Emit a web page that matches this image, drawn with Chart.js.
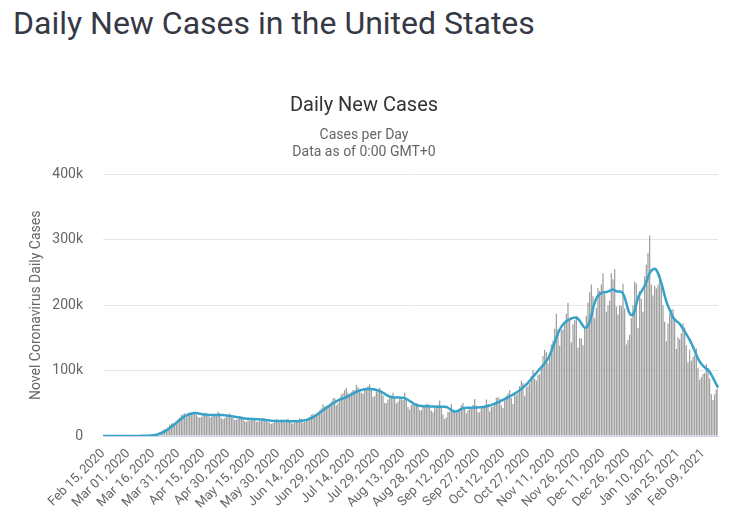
<!DOCTYPE html>
<html>
<head>
<meta charset="utf-8">
<script src="https://cdn.jsdelivr.net/npm/chart.js@4"></script>
<style>
  html, body { margin: 0; padding: 0; background: #ffffff; width: 731px; height: 516px; overflow: hidden; }
  h1 { position: absolute; left: 13px; top: 4px; margin: 0; font-family: Roboto, sans-serif; font-weight: 400; font-size: 32px; line-height: normal; color: #363945; white-space: nowrap; }
  #wrap { position: absolute; left: 10px; top: 56px; width: 721px; height: 460px; }
</style>
</head>
<body>
<h1>Daily New Cases in the United States</h1>
<div id="wrap"><canvas id="c" width="721" height="460"></canvas></div>
<script>
// ---- DATA ----
const startDate = "2020-02-15";   // first category (day 0)
const tickLabels = ["Feb 15, 2020","Mar 01, 2020","Mar 16, 2020","Mar 31, 2020","Apr 15, 2020","Apr 30, 2020","May 15, 2020","May 30, 2020","Jun 14, 2020","Jun 29, 2020","Jul 14, 2020","Jul 29, 2020","Aug 13, 2020","Aug 28, 2020","Sep 12, 2020","Sep 27, 2020","Oct 12, 2020","Oct 27, 2020","Nov 11, 2020","Nov 26, 2020","Dec 11, 2020","Dec 26, 2020","Jan 10, 2021","Jan 25, 2021","Feb 09, 2021"];
const yTicks = [0, 100000, 200000, 300000, 400000];

const dailyCases = [
0,0,0,0,0,0,1,
0,0,0,0,1,0,3,
6,8,23,20,31,70,68,
116,106,163,290,271,687,718,
952,737,1748,1367,2636,4585,5532,
6912,9346,10154,10730,13355,17155,18821,
20000,19500,22500,26000,28500,32000,33500,
35000,28500,32500,34500,34000,35500,37000,
33000,29500,28000,29000,32000,34500,35500,
31500,28500,29000,30500,32500,33500,37000,
34500,27500,26000,27000,30000,31500,34500,
31000,28000,24500,25000,26000,30500,30000,
28500,22500,21500,24000,23500,28000,27000,
27500,21500,22500,22500,23500,27500,26000,
25000,21500,20000,18500,20000,24000,25500,
25000,20500,22000,22500,21000,23500,26000,
23500,19500,19000,20500,22500,23500,27000,
26000,20500,21500,24000,26500,29000,32500,
34000,28000,31500,36500,39000,42000,48500,
45500,42500,44000,48500,52500,57500,58000,
47000,50500,58500,63500,65500,70000,74000,
66000,63500,67000,70500,70000,78000,74500,
69000,66000,64500,70500,73500,76500,79000,
70500,60000,61000,68500,71500,74000,70000,
62000,50500,50000,56000,58500,59500,66000,
60000,50000,52500,56500,58500,55000,66500,
55000,44500,40500,47500,50000,47500,50500,
48500,39500,39500,45500,47500,49500,48500,
47500,38500,36500,45000,42500,47500,54500,
46000,33000,26000,28500,37000,37500,49000,
40500,37000,35500,40000,42000,47500,50500,
44000,35000,39500,41500,41500,47500,56500,
46500,36500,36500,44000,44500,47000,56000,
49000,37500,44500,45000,51500,58000,59500,
57000,46500,43000,54000,61500,65000,70500,
58000,49000,65000,62500,65000,76500,84500,
81000,61000,74500,77000,80500,91500,101000,
87500,85000,93500,94500,108000,122500,132000,
128000,111000,121000,140000,146000,164000,187000,
163000,138000,162000,163000,173000,187000,204000,
178000,143000,171000,177000,184000,135000,150000,
149000,139000,164000,184000,204000,220000,232000,
214000,180000,196000,226000,222000,232000,249000,
218000,190000,200000,207000,249000,240000,255000,
198000,186000,200000,199000,233000,195000,140000,
147000,155000,180000,200000,236000,233000,165000,
222000,210000,190000,245000,262000,280000,307000,
232000,215000,230000,226000,232000,248000,237000,
200000,175000,145000,172000,187000,193000,194000,
176000,133000,151000,148000,157000,172000,166000,
139000,113000,132000,115000,121000,123000,134000,
104000,86000,90000,95000,96000,110000,104000,
88000,64000,55000,64000,71000,75000
];

const movingAverage = [
0,0,0,0,0,0,0,
0,0,0,0,0,100,100,
100,100,100,100,100,100,100,
100,100,200,200,200,300,400,
600,800,1100,1500,2000,2700,3600,
4600,5800,7100,8600,10200,12000,14000,
16000,18100,20200,22300,24400,26400,28200,
29900,31300,32600,33600,34400,34900,35100,
35000,34600,34100,33600,33200,32800,32500,
32300,32100,32000,32000,32100,32200,32300,
32300,32200,32000,31700,31400,31100,30800,
30400,30000,29600,29100,28600,28100,27600,
27200,26800,26500,26300,26100,26000,25900,
25800,25700,25600,25400,25200,25000,24700,
24400,24100,23800,23500,23200,23000,22900,
22800,22800,22900,23000,23000,22900,22800,
22700,22600,22600,22600,22600,22700,22900,
23200,23600,24100,24700,25500,26400,27500,
28800,30300,32000,33800,35700,37600,39500,
41400,43200,45000,46600,48200,49800,51400,
53000,54400,55600,56600,57400,58300,59400,
60700,62100,63600,65000,66300,67500,68600,
69600,70400,71000,71500,71800,72000,72000,
71900,71600,71200,70600,69800,68800,67600,
66200,64600,63000,61600,60400,59600,59100,
58900,58800,58800,58800,58700,58400,57800,
56800,55400,53700,51900,50200,48700,47500,
46700,46200,45900,45700,45600,45500,45400,
45300,45200,45100,45000,44900,44800,44800,
44800,44900,44800,44300,43200,41600,39800,
38200,37400,37600,38600,40000,41400,42400,
42900,43100,43100,43100,43100,43200,43300,
43500,43700,43900,44100,44400,44800,45300,
45900,46600,47400,48300,49300,50400,51600,
52800,54000,55200,56500,57800,59100,60500,
61900,63300,64800,66400,68100,70000,72000,
74200,76500,78900,81400,84500,87500,90500,
93500,96500,99500,102500,105000,108000,111000,
114500,118500,123500,129500,136500,143500,150500,
157000,162500,167000,170500,173300,175500,177200,
178600,179800,180800,181300,181000,179500,176500,
172500,168500,166000,166000,169000,175000,184000,
195000,204000,210500,214500,217000,218500,219500,
220000,220500,221000,222000,223500,224000,223000,
221500,221000,221000,220500,218000,212000,203000,
194000,187500,185000,186000,192000,202000,211000,
217000,221000,225000,230000,236000,243000,249000,
253000,255000,256000,254000,249000,242000,234000,
225000,215000,206000,199000,193000,187000,182000,
178500,176000,174000,171500,168000,164000,160000,
156000,151500,147000,142000,136500,130500,124000,
118500,114000,110500,107500,105000,103000,101000,
98000,94000,89000,84000,79000,74500
];

// ---- categories: one per day from startDate, formatted "Mon DD, YYYY" ----
const monthNames = ["Jan","Feb","Mar","Apr","May","Jun","Jul","Aug","Sep","Oct","Nov","Dec"];
const categories = [];
{
  const d0 = new Date(startDate + "T00:00:00Z");
  for (let i = 0; i < dailyCases.length; i++) {
    const d = new Date(d0.getTime() + i * 86400000);
    const dd = String(d.getUTCDate()).padStart(2, "0");
    categories.push(monthNames[d.getUTCMonth()] + " " + dd + ", " + d.getUTCFullYear());
  }
}

Chart.defaults.font.family = "Roboto, 'Open Sans', sans-serif";
Chart.defaults.color = "#666666";

new Chart(document.getElementById("c"), {
  type: "bar",
  data: {
    labels: categories,
    datasets: [
      {
        type: "line",
        label: "Daily Cases (7-day moving average)",
        data: movingAverage,
        borderColor: "#36a2c9",
        borderWidth: 2.5,
        pointRadius: 0,
        tension: 0.35,
        fill: false,
        order: 0
      },
      {
        type: "bar",
        label: "Daily Cases",
        data: dailyCases,
        backgroundColor: "#999999",
        barPercentage: 0.7,
        categoryPercentage: 1.0,
        order: 1
      }
    ]
  },
  options: {
    responsive: false,
    animation: false,
    devicePixelRatio: 1,
    layout: { padding: { left: 0, right: 13, top: 0, bottom: 0 } },
    plugins: {
      legend: { display: false },
      tooltip: { enabled: false },
      title: {
        display: true,
        text: "Daily New Cases",
        color: "#333333",
        font: { size: 20, weight: "normal" },
        padding: { top: 38, bottom: 9 }
      },
      subtitle: {
        display: true,
        text: ["Cases per Day", "Data as of 0:00 GMT+0"],
        color: "#666666",
        font: { size: 14, weight: "normal" },
        padding: { top: 0, bottom: 14 }
      }
    },
    scales: {
      x: {
        offset: false,
        grid: { display: false, drawTicks: false },
        border: { display: true, color: "#ccd6eb", width: 1 },
        ticks: {
          autoSkip: false,
          maxRotation: 45,
          minRotation: 45,
          padding: 10,
          color: "#666666",
          font: { size: 13 },
          callback: function (value, index) {
            const lab = categories[index];
            return tickLabels.includes(lab) ? lab : null;
          }
        },
        afterFit: function (s) { s.height = 80; }
      },
      y: {
        min: 0,
        max: 400000,
        afterBuildTicks: function (s) { s.ticks = yTicks.map(v => ({ value: v })); },
        grid: { color: "#e6e6e6", drawTicks: false },
        border: { display: false },
        ticks: {
          padding: 20,
          color: "#666666",
          font: { size: 14 },
          callback: function (v) { return v === 0 ? "0" : (v / 1000) + "k"; }
        },
        title: {
          display: true,
          text: "Novel Coronavirus Daily Cases",
          color: "#666666",
          font: { size: 14 },
          padding: { top: 18, bottom: 0 }
        },
        afterFit: function (s) { s.width = 93; }
      }
    }
  }
});
</script>
</body>
</html>
